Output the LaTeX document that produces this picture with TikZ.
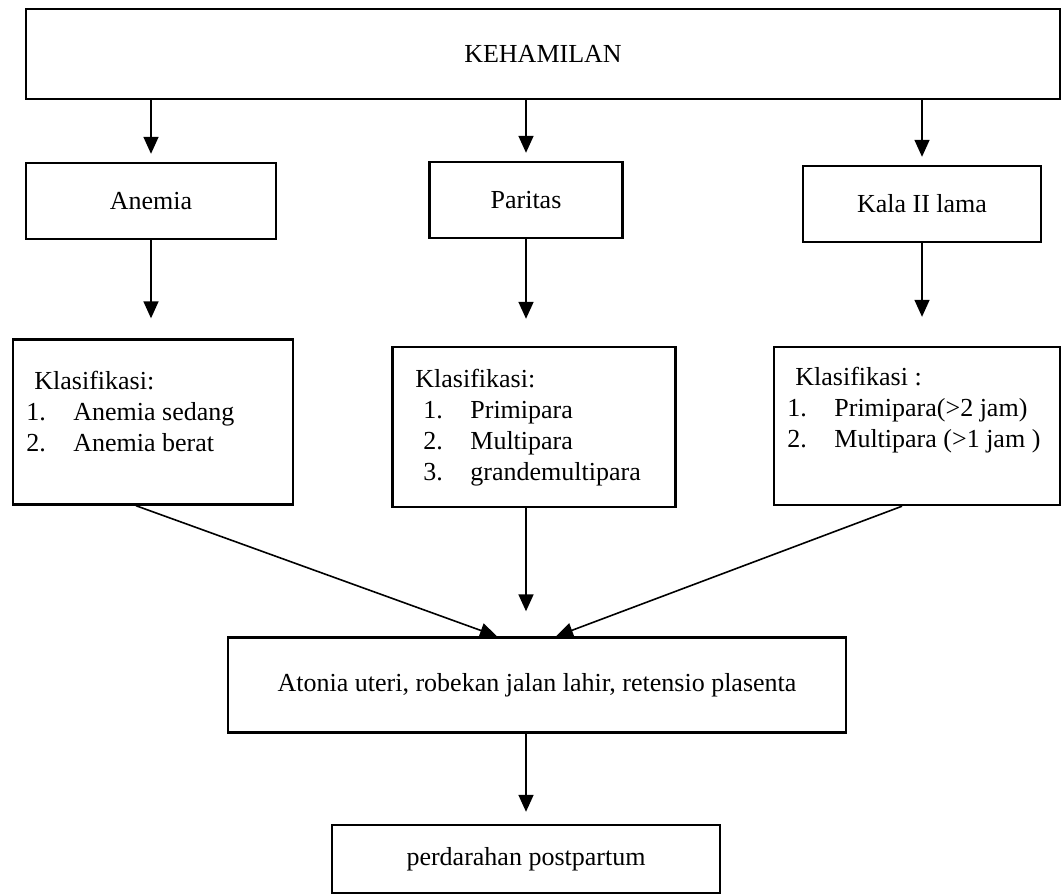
\documentclass[tikz,border=0pt]{standalone}
\usepackage{fontspec}
\setmainfont{Liberation Serif}
\usetikzlibrary{arrows.meta}
\newcommand{\klasline}[2]{\makebox[23.5pt][l]{#1}#2}

\begin{document}
\begin{tikzpicture}[
  x=0.5pt, y=-0.5pt,
  box/.style={draw=black, line width=1.2pt, inner sep=0pt, align=center, font=\fontsize{13}{15.5}\selectfont},
  klas/.style={inner sep=0pt, anchor=base west, font=\fontsize{13}{15.5}\selectfont},
  arr/.style={-{Triangle[length=8.5pt, width=7.5pt]}, line width=0.8pt},
  gap/.style={shorten >=#1}
]
  \useasboundingbox (0,0) rectangle (1063,895);

  % top and second row
  \node[box, minimum width=517pt, minimum height=45pt] (keh) at (543,54) {KEHAMILAN};
  \node[box, minimum width=125pt, minimum height=38pt] (anemia) at (151,201) {Anemia};
  \node[box, minimum width=96.5pt, minimum height=38pt] (paritas) at (526,200) {Paritas};
  \node[box, minimum width=119pt, minimum height=38pt] (kala) at (922,204) {Kala II lama};

  % classification boxes
  \node[box, minimum width=140pt, minimum height=82.5pt] (k1) at (153,422) {};
  \node[box, minimum width=141.5pt, minimum height=80pt] (k2) at (534,427) {};
  \node[box, minimum width=143pt, minimum height=79pt] (k3) at (917,426) {};

  \node[klas] (k1t) at (26,389) {\begin{tabular}[t]{@{}l@{}}
    \hspace*{4pt}Klasifikasi:\\
    \klasline{1.}{Anemia sedang}\\
    \klasline{2.}{Anemia berat}
  \end{tabular}};
  \node[klas] (k2t) at (415,387) {\begin{tabular}[t]{@{}l@{}}
    Klasifikasi:\\
    \hspace*{4pt}\klasline{1.}{Primipara}\\
    \hspace*{4pt}\klasline{2.}{Multipara}\\
    \hspace*{4pt}\klasline{3.}{grandemultipara}
  \end{tabular}};
  \node[klas] (k3t) at (787,385) {\begin{tabular}[t]{@{}l@{}}
    \hspace*{4pt}Klasifikasi :\\
    \klasline{1.}{Primipara(>2 jam)}\\
    \klasline{2.}{Multipara (>1 jam )}
  \end{tabular}};

  % outcome boxes
  \node[box, minimum width=309pt, minimum height=47.5pt] (atonia) at (537,685) {Atonia uteri, robekan jalan lahir, retensio plasenta};
  \node[box, minimum width=194pt, minimum height=34pt] (perd) at (526,859) {perdarahan postpartum};

  \draw[arr, gap=4pt] (keh.south -| anemia.north) -- (anemia.north);
  \draw[arr, gap=4pt] (keh.south -| paritas.north) -- (paritas.north);
  \draw[arr, gap=4pt] (keh.south -| kala.north) -- (kala.north);

  \draw[arr, gap=10pt] (anemia.south) -- (anemia.south |- k1.north);
  \draw[arr, gap=13.5pt] (paritas.south) -- (paritas.south |- k2.north);
  \draw[arr, gap=14.5pt] (kala.south) -- (kala.south |- k3.north);

  \draw[arr] ([shift={(-17,0)}]k1.south) -- ([shift={(-40,0)}]atonia.north);
  \draw[arr, gap=12.5pt] (k2.south -| paritas.south) -- (atonia.north -| paritas.south);
  \draw[arr] ([shift={(-15,0)}]k3.south) -- ([shift={(19,0)}]atonia.north);

  \draw[arr, gap=6pt] (atonia.south -| perd.north) -- (perd.north);
\end{tikzpicture}
\end{document}
